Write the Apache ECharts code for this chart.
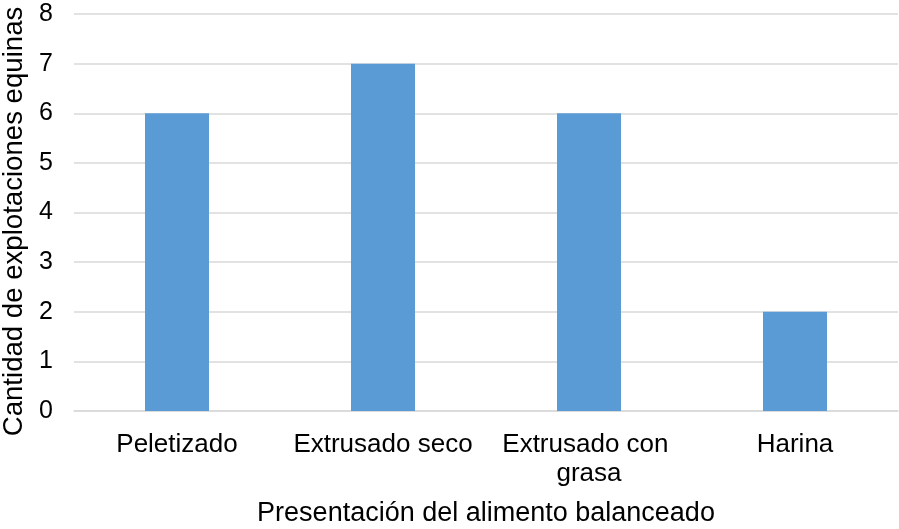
<!DOCTYPE html>
<html>
<head>
<meta charset="utf-8">
<script src="https://cdn.jsdelivr.net/npm/echarts@6/dist/echarts.min.js"></script>
<style>
  html, body { margin: 0; padding: 0; background: #fff; }
  #chart { width: 899px; height: 529px; }
</style>
</head>
<body>
<div id="chart"></div>
<script>
// datos
const categorias = ['Peletizado', 'Extrusado seco', 'Extrusado con grasa', 'Harina'];
const cantidades = [6, 7, 6, 2];
const yMin = 0;
const yMax = 8;
const yPaso = 1;

const myChart = echarts.init(document.getElementById('chart'));
myChart.setOption({
    animation: false,
    textStyle: { fontFamily: 'Liberation Sans, Arial, sans-serif' },
    grid: {
        left: 74,
        right: 1,
        top: 14,
        bottom: 118,
        containLabel: false,
        outerBoundsMode: 'none'
    },
    xAxis: {
        type: 'category',
        data: categorias,
        name: 'Presentación del alimento balanceado',
        nameLocation: 'middle',
        nameGap: 89,
        nameTextStyle: { fontSize: 27, color: '#000' },
        axisLine: { lineStyle: { color: '#d9d9d9', width: 1.5 } },
        axisTick: { show: false },
        axisLabel: {
            fontSize: 26,
            color: '#000',
            margin: 19,
            interval: 0,
            width: 200,
            overflow: 'break',
            lineHeight: 29
        }
    },
    yAxis: {
        type: 'value',
        min: yMin,
        max: yMax,
        interval: yPaso,
        name: 'Cantidad de explotaciones equinas',
        nameLocation: 'middle',
        nameGap: 43,
        nameTextStyle: { fontSize: 27.6, color: '#000', padding: [0, 18, 0, 0] },
        axisLine: { show: false },
        axisTick: { show: false },
        axisLabel: { fontSize: 25, color: '#000', margin: 21 },
        splitLine: { lineStyle: { color: '#d9d9d9', width: 1.5 } }
    },
    series: [{
        type: 'bar',
        data: cantidades,
        barWidth: 64,
        itemStyle: { color: '#5b9bd5' }
    }]
});
</script>
</body>
</html>
